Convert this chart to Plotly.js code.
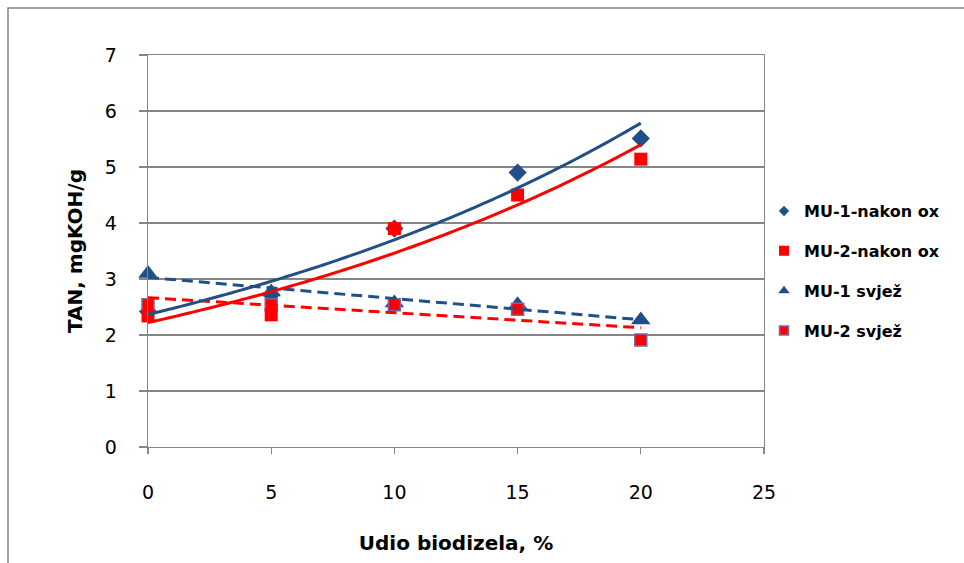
<!DOCTYPE html>
<html>
<head>
<meta charset="utf-8">
<script src="https://cdn.plot.ly/plotly-3.0.1.min.js"></script>
<style>
  html, body { margin: 0; padding: 0; background: #ffffff; }
  #chart { width: 964px; height: 563px; }
</style>
</head>
<body>
<div id="chart"></div>
<script>
// ---- Data ----
const biodieselShare = [0, 5, 10, 15, 20];            // Udio biodizela, %
const mu1AfterOx     = [2.42, 2.72, 3.90, 4.90, 5.51]; // MU-1-nakon ox
const mu2AfterOx     = [2.34, 2.36, 3.90, 4.50, 5.14]; // MU-2-nakon ox
const mu1Fresh       = [3.10, 2.77, 2.57, 2.54, 2.27]; // MU-1 svjež
const mu2Fresh       = [2.54, 2.54, 2.54, 2.46, 1.91]; // MU-2 svjež
const seriesNames    = ["MU-1-nakon ox", "MU-2-nakon ox", "MU-1 svjež", "MU-2 svjež"];
const xTickValues    = [0, 5, 10, 15, 20, 25];
const yTickValues    = [0, 1, 2, 3, 4, 5, 6, 7];

// ---- Trendline fits (computed from the data) ----
function linFit(xs, ys) {
  const n = xs.length;
  const mx = xs.reduce((s, v) => s + v, 0) / n;
  const my = ys.reduce((s, v) => s + v, 0) / n;
  let sxy = 0, sxx = 0;
  for (let i = 0; i < n; i++) { sxy += (xs[i] - mx) * (ys[i] - my); sxx += (xs[i] - mx) ** 2; }
  const b = sxy / sxx;
  return { a: my - b * mx, b: b };
}
function expFit(xs, ys) {
  const f = linFit(xs, ys.map(Math.log));
  return { a: Math.exp(f.a), b: f.b };
}
const xMin = Math.min(...biodieselShare), xMax = Math.max(...biodieselShare);
const sampleX = [];
for (let i = 0; i <= 60; i++) sampleX.push(xMin + (xMax - xMin) * i / 60);

const e1 = expFit(biodieselShare, mu1AfterOx);
const e2 = expFit(biodieselShare, mu2AfterOx);
const l1 = linFit(biodieselShare, mu1Fresh);
const l2 = linFit(biodieselShare, mu2Fresh);

const BLUE = "#214F87";
const RED = "#FF0000";
const PURPLE = "#8064A2";
const GRID = "#868686";
const FONT = "DejaVu Sans, Verdana, sans-serif";

const traces = [
  // markers
  { x: biodieselShare, y: mu1AfterOx, mode: "markers", type: "scatter", showlegend: false, cliponaxis: false,
    marker: { symbol: "diamond", size: 14, color: BLUE } },
  { x: biodieselShare, y: mu1Fresh, mode: "markers", type: "scatter", showlegend: false, cliponaxis: false,
    marker: { symbol: "triangle-up", size: 17, color: BLUE } },
  { x: biodieselShare, y: mu2Fresh, mode: "markers", type: "scatter", showlegend: false, cliponaxis: false,
    marker: { symbol: "square", size: 12, color: RED, line: { color: PURPLE, width: 1.5 } } },
  { x: biodieselShare, y: mu2AfterOx, mode: "markers", type: "scatter", showlegend: false, cliponaxis: false,
    marker: { symbol: "square", size: 13, color: RED } },
  // trendlines
  { x: sampleX, y: sampleX.map(x => l2.a + l2.b * x), mode: "lines", type: "scatter", showlegend: false,
    line: { color: RED, width: 3, dash: "11px,6px" } },
  { x: sampleX, y: sampleX.map(x => l1.a + l1.b * x), mode: "lines", type: "scatter", showlegend: false,
    line: { color: BLUE, width: 3, dash: "11px,6px" } },
  { x: sampleX, y: sampleX.map(x => e2.a * Math.exp(e2.b * x)), mode: "lines", type: "scatter", showlegend: false,
    line: { color: RED, width: 3, shape: "spline" } },
  { x: sampleX, y: sampleX.map(x => e1.a * Math.exp(e1.b * x)), mode: "lines", type: "scatter", showlegend: false,
    line: { color: BLUE, width: 3, shape: "spline" } },
  // legend entries
  { x: [null], y: [null], mode: "markers", type: "scatter", name: seriesNames[0], legendgroup: "g1",
    marker: { symbol: "diamond", size: 8, color: BLUE } },
  { x: [null], y: [null], mode: "markers", type: "scatter", name: seriesNames[1], legendgroup: "g2",
    marker: { symbol: "square", size: 10, color: RED } },
  { x: [null], y: [null], mode: "markers", type: "scatter", name: seriesNames[2], legendgroup: "g3",
    marker: { symbol: "triangle-up", size: 10, color: BLUE } },
  { x: [null], y: [null], mode: "markers", type: "scatter", name: seriesNames[3], legendgroup: "g4",
    marker: { symbol: "square", size: 9, color: RED, line: { color: PURPLE, width: 1.5 } } }
];

const layout = {
  width: 964, height: 563,
  margin: { l: 148, r: 200, t: 55, b: 116 },
  paper_bgcolor: "#ffffff", plot_bgcolor: "#ffffff",
  font: { family: FONT, color: "#000000" },
  showlegend: true,
  legend: {
    x: 1.0, xanchor: "left", y: 0.645, yanchor: "top",
    font: { family: FONT, size: 16, color: "#000000", weight: "bold" },
    traceorder: "grouped", tracegroupgap: 16,
    bgcolor: "rgba(0,0,0,0)", borderwidth: 0
  },
  xaxis: {
    range: [0, 25], tickvals: xTickValues, ticktext: xTickValues.map(String),
    showgrid: false, zeroline: false,
    showline: true, linecolor: GRID, linewidth: 1.3, mirror: true,
    ticks: "outside", ticklen: 6, tickcolor: GRID, tickwidth: 1.3,
    ticklabelstandoff: 22,
    tickfont: { family: FONT, size: 19, color: "#000000" },
    title: { text: "Udio biodizela, %", font: { family: FONT, size: 20, color: "#000000", weight: "bold" }, standoff: 34 },
    automargin: false
  },
  yaxis: {
    range: [0, 7], tickvals: yTickValues, ticktext: yTickValues.map(String),
    showgrid: true, gridcolor: GRID, gridwidth: 1.3, zeroline: false,
    showline: true, linecolor: GRID, linewidth: 1.3, mirror: true,
    ticks: "outside", ticklen: 8, tickcolor: GRID, tickwidth: 1.3,
    ticklabelstandoff: 18,
    tickfont: { family: FONT, size: 19, color: "#000000" },
    title: { text: "TAN, mgKOH/g", font: { family: FONT, size: 20, color: "#000000", weight: "bold" }, standoff: 16 },
    automargin: false
  },
  shapes: [
    { type: "rect", xref: "paper", yref: "paper",
      x0: (8 - 148) / 616, x1: 2, y0: -1, y1: (447 - 8) / 392,
      line: { color: GRID, width: 1.5 }, fillcolor: "rgba(0,0,0,0)", layer: "below" }
  ]
};

Plotly.newPlot("chart", traces, layout, { displayModeBar: false, staticPlot: true });
</script>
</body>
</html>
